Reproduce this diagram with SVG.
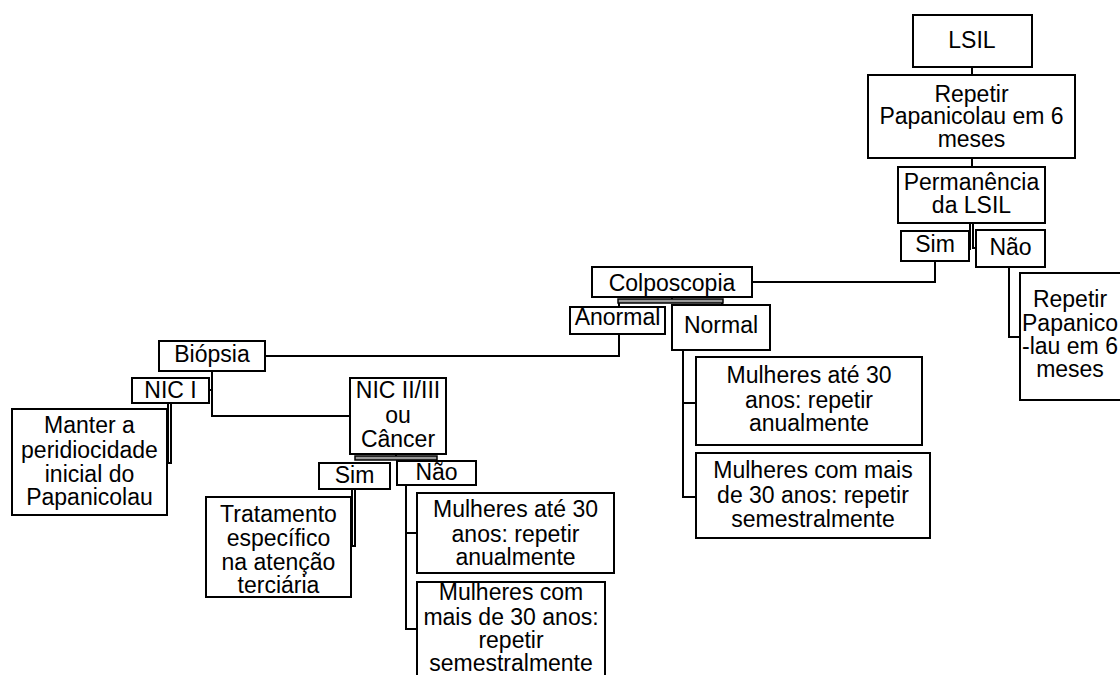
<svg xmlns="http://www.w3.org/2000/svg" width="1120" height="675" viewBox="0 0 1120 675">
<style>
.b{fill:#fff;stroke:#000;stroke-width:2}
.t{font-family:"Liberation Sans",Arial,sans-serif;font-size:23px;fill:#000;text-anchor:middle}
.c{fill:none;stroke:#000;stroke-width:2}
.br{fill:#999;stroke:#000;stroke-width:1.5}
</style>
<rect width="1120" height="675" fill="#fff"/>
<g id="connectors">
<path class="c" d="M972 67V75"/>
<path class="c" d="M972 158V167"/>
<path class="c" d="M970 223V250M973 223V248H977"/>
<path class="c" d="M935 262V282H752"/>
<path class="c" d="M1009 267V337H1021"/>
<path class="c" d="M672 297V300"/>
<rect class="br" x="618" y="299" width="105" height="4"/>
<path class="c" d="M619 303V307M722 303V306"/>
<path class="c" d="M619 334V356H265"/>
<path class="c" d="M683 350V497H696M683 403H696"/>
<path class="c" d="M212 371V416H350M209 390H212"/>
<path class="c" d="M168 403V462M171 403V463H167"/>
<path class="c" d="M396 454V457"/>
<rect class="br" x="355" y="456" width="82" height="4"/>
<path class="c" d="M352 490V546M355 490V546H351"/>
<path class="c" d="M406 486V629H417M406 533H417"/>
</g>
<g id="n-lsil"><rect class="b" x="913" y="15" width="119" height="52"/><text class="t" x="972" y="48">LSIL</text></g>
<g id="n-repetir"><rect class="b" x="868" y="75" width="207" height="83"/><text class="t" x="971.5" y="102">Repetir</text><text class="t" x="971.5" y="124">Papanicolau em 6</text><text class="t" x="971.5" y="147">meses</text></g>
<g id="n-perm"><rect class="b" x="898" y="167" width="147" height="56"/><text class="t" x="971.5" y="190">Permanência</text><text class="t" x="971.5" y="213">da LSIL</text></g>
<g id="n-sim1"><rect class="b" x="901" y="231" width="68" height="30"/><text class="t" x="935" y="252">Sim</text></g>
<g id="n-nao1"><rect class="b" x="976" y="230" width="69" height="37"/><text class="t" x="1010.5" y="255">Não</text></g>
<g id="n-repetir2"><rect class="b" x="1020" y="273" width="104" height="127"/><text class="t" x="1070" y="307">Repetir</text><text class="t" x="1070" y="331">Papanico</text><text class="t" x="1070" y="354">-lau em 6</text><text class="t" x="1070" y="377">meses</text></g>
<g id="n-colpo"><rect class="b" x="592" y="267" width="160" height="30"/><text class="t" x="672" y="291">Colposcopia</text></g>
<g id="n-anormal"><rect class="b" x="570" y="307" width="95" height="27"/><text class="t" x="617.5" y="325">Anormal</text></g>
<g id="n-normal"><rect class="b" x="672" y="305" width="98" height="45"/><text class="t" x="721" y="333">Normal</text></g>
<g id="n-m1"><rect class="b" x="696" y="357" width="226" height="88"/><text class="t" x="809" y="383">Mulheres até 30</text><text class="t" x="809" y="408">anos: repetir</text><text class="t" x="809" y="431">anualmente</text></g>
<g id="n-m2"><rect class="b" x="696" y="453" width="234" height="85"/><text class="t" x="813" y="478">Mulheres com mais</text><text class="t" x="813" y="503">de 30 anos: repetir</text><text class="t" x="813" y="527">semestralmente</text></g>
<g id="n-biopsia"><rect class="b" x="159" y="341" width="106" height="30"/><text class="t" x="212" y="362">Biópsia</text></g>
<g id="n-nic1"><rect class="b" x="132" y="378" width="77" height="25"/><text class="t" x="170.5" y="398">NIC I</text></g>
<g id="n-nic23"><rect class="b" x="350" y="378" width="96" height="76"/><text class="t" x="398" y="398">NIC II/III</text><text class="t" x="398" y="423">ou</text><text class="t" x="398" y="447">Câncer</text></g>
<g id="n-manter"><rect class="b" x="12" y="409" width="155" height="106"/><text class="t" x="89.5" y="433">Manter a</text><text class="t" x="89.5" y="458">peridiocidade</text><text class="t" x="89.5" y="482">inicial do</text><text class="t" x="89.5" y="505">Papanicolau</text></g>
<g id="n-sim2"><rect class="b" x="319" y="463" width="71" height="26"/><text class="t" x="354.5" y="483">Sim</text></g>
<g id="n-nao2"><rect class="b" x="397" y="461" width="79" height="24"/><text class="t" x="436.5" y="480">Não</text></g>
<g id="n-trat"><rect class="b" x="206" y="497" width="145" height="100"/><text class="t" x="278.5" y="522">Tratamento</text><text class="t" x="278.5" y="546">específico</text><text class="t" x="278.5" y="570">na atenção</text><text class="t" x="278.5" y="593">terciária</text></g>
<g id="n-ma"><rect class="b" x="417" y="493" width="197" height="80"/><text class="t" x="515.5" y="517">Mulheres até 30</text><text class="t" x="515.5" y="542">anos: repetir</text><text class="t" x="515.5" y="565">anualmente</text></g>
<g id="n-mb"><rect class="b" x="417" y="582" width="188" height="100"/><text class="t" x="511" y="600">Mulheres com</text><text class="t" x="511" y="625">mais de 30 anos:</text><text class="t" x="511" y="648">repetir</text><text class="t" x="511" y="671">semestralmente</text></g>
</svg>
